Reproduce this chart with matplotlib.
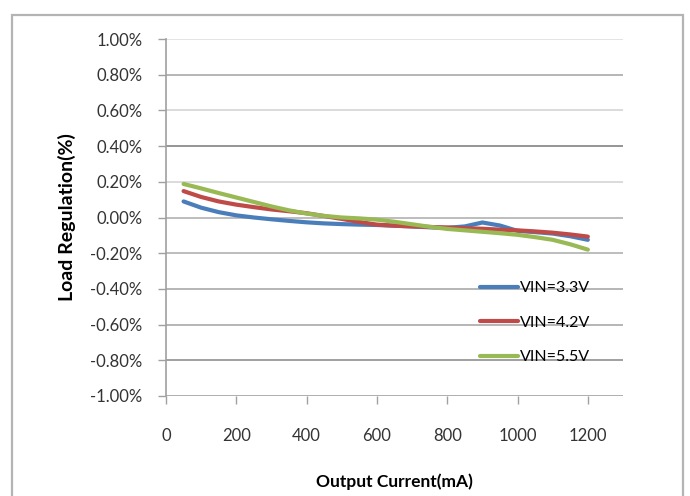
import matplotlib
matplotlib.use("Agg")
import matplotlib.pyplot as plt
from matplotlib.patches import Rectangle

# output current (mA)
current = [50, 100, 150, 200, 250, 300, 350, 400, 450, 500, 550, 600,
           650, 700, 750, 800, 850, 900, 950, 1000, 1050, 1100, 1150, 1200]

# load regulation (%)
vin33 = [0.090, 0.055, 0.030, 0.012, 0.000, -0.010, -0.019, -0.027, -0.033, -0.037, -0.040, -0.042,
         -0.046, -0.050, -0.055, -0.058, -0.050, -0.028, -0.045, -0.075, -0.082, -0.090, -0.105, -0.125]
vin42 = [0.148, 0.115, 0.090, 0.072, 0.058, 0.045, 0.035, 0.024, 0.008, -0.008, -0.025, -0.040,
         -0.046, -0.050, -0.053, -0.056, -0.060, -0.063, -0.068, -0.072, -0.078, -0.085, -0.095, -0.107]
vin55 = [0.188, 0.163, 0.137, 0.112, 0.087, 0.062, 0.040, 0.022, 0.009, 0.000, -0.005, -0.012,
         -0.024, -0.038, -0.052, -0.064, -0.072, -0.080, -0.088, -0.097, -0.110, -0.125, -0.150, -0.180]

labels = ["VIN=3.3V", "VIN=4.2V", "VIN=5.5V"]
colors = ["#4a7ebb", "#be4b48", "#98b954"]

yticks = [1.0, 0.8, 0.6, 0.4, 0.2, 0.0, -0.2, -0.4, -0.6, -0.8, -1.0]
grid_colors = ["#e0e0e0", "#b0b0b0", "#d8d8d8", "#8c8c8c", "#d8d8d8", "#b8b8b8",
               "#b8b8b8", "#b0b0b0", "#b0b0b0", "#999999", "#a8a8a8"]

plt.rcParams["font.family"] = ["Lato", "DejaVu Sans"]

fig = plt.figure(figsize=(6.9, 4.96), dpi=100)
fig.patches.append(Rectangle((12 / 690, -0.05), 671 / 690, 1.05 - 15 / 496,
                             transform=fig.transFigure, fill=False,
                             edgecolor="#b4b4b4", linewidth=1.6))

ax = fig.add_axes([166 / 690, 1 - 396 / 496, 457 / 690, 357 / 496])
ax.set_xlim(0, 1300)
ax.set_ylim(-1.0, 1.0)

for yv, gc in zip(yticks, grid_colors):
    ax.axhline(yv, color=gc, linewidth=1.3, zorder=1)

for ys, c, lab in zip([vin33, vin42, vin55], colors, labels):
    ax.plot(current, ys, color=c, linewidth=3, label=lab, zorder=3,
            solid_capstyle="round")

for s in ["top", "right", "bottom"]:
    ax.spines[s].set_visible(False)
ax.spines["left"].set_color("#a0a0a0")
ax.spines["left"].set_linewidth(1.2)

ax.set_yticks(yticks)
ax.set_yticklabels(["%.2f%%" % v for v in yticks])
ax.set_xticks(range(0, 1201, 200))
ax.tick_params(axis="y", length=6, width=1.0, color="#a0a0a0", pad=11,
               labelsize=12, labelcolor="#333333")
ax.tick_params(axis="x", length=6, width=1.0, color="#a0a0a0", pad=17,
               labelsize=12, labelcolor="#333333")

ax.set_xlabel("Output Current(mA)", fontsize=12.5, fontweight="bold", labelpad=21)
ax.set_ylabel("Load Regulation(%)", fontsize=14, fontweight="bold", labelpad=10)

ax.legend(loc="upper left", bbox_to_anchor=(893 / 1300, 0.322),
          frameon=False, handlelength=2.4, handletextpad=0.1,
          labelspacing=1.27, fontsize=11.5, borderaxespad=0, borderpad=0)

fig.savefig("out.png", dpi=100)
plt.close()
